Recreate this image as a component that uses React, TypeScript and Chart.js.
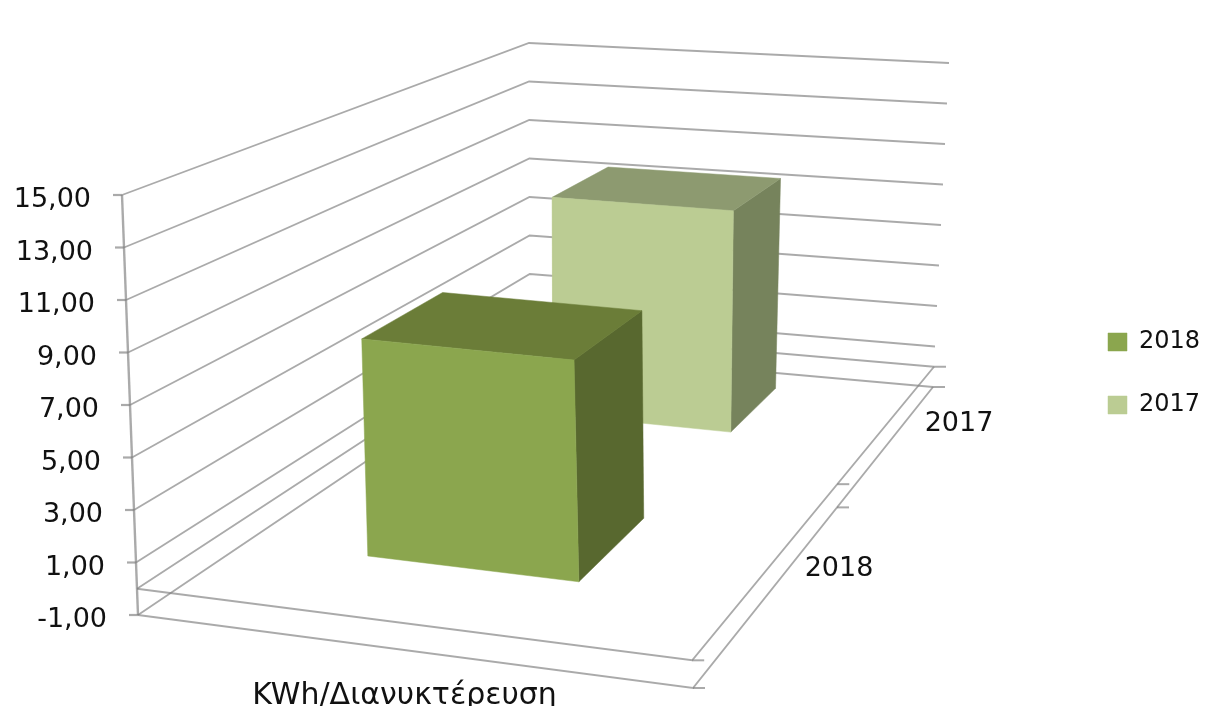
import React, { useEffect, useRef } from "react";
import { Chart, registerables } from "chart.js";

Chart.register(...registerables);

const seriesNames = ["2018", "2017"];
const seriesValues = [8.6, 10.1];
const categoryLabel = "KWh/Διανυκτέρευση";
const tickValues = [-1, 1, 3, 5, 7, 9, 11, 13, 15];
const floorValue = 0;
const frontColors = ["#8BA64E", "#BBCC93"];
const topColors = ["#6B7D38", "#8D9A70"];
const sideColors = ["#58682F", "#76835C"];

const W = 1232, H = 706;
const PX_PER_UNIT = 26.25;
const Y_AT_MIN = 615;
const FONT = "DejaVu Sans";
const GRID = "rgba(130,130,130,0.68)";
const TEXT = "#111111";

const LOW: Record<string, number[]> = { "00": [138, 615], "10": [693, 688], "01": [530, 351], "11": [933, 387] };
const HIGH: Record<string, number[]> = { "00": [122, 195], "10": [680, 245], "01": [529, 43], "11": [949, 63] };
const bil = (c: Record<string, number[]>, u: number, w: number, i: number) =>
  c["00"][i] * (1 - u) * (1 - w) + c["10"][i] * u * (1 - w) + c["01"][i] * (1 - u) * w + c["11"][i] * u * w;

const project = (u: number, v: number, w: number) => {
  const t = (v + 1) / 16;
  const px = bil(LOW, u, w, 0) * (1 - t) + bil(HIGH, u, w, 0) * t;
  const py = bil(LOW, u, w, 1) * (1 - t) + bil(HIGH, u, w, 1) * t;
  return { x: px, y: -1 + (Y_AT_MIN - py) / PX_PER_UNIT };
};

const barSpans = [
  { u0: 0.29, u1: 0.692, w0: 0.2, w1: 0.425 },
  { u0: 0.29, u1: 0.69, w0: 0.73, w1: 0.885 },
];

const line = (pts: { x: number; y: number }[], width = 1.8, color = GRID) => ({
  label: "",
  data: pts,
  showLine: true,
  fill: false,
  tension: 0,
  borderColor: color,
  borderWidth: width,
  pointRadius: 0,
  clip: false,
});

const face = (label: string, pts: { x: number; y: number }[], color: string) => ({
  label,
  data: [...pts, pts[0]],
  showLine: true,
  fill: "shape",
  tension: 0,
  backgroundColor: color,
  borderColor: color,
  borderWidth: 0.5,
  pointRadius: 0,
  clip: false,
});

const buildDatasets = () => {
  const sets: any[] = [];
  seriesNames.forEach((name, i) => {
    const { u0, u1, w0, w1 } = barSpans[i];
    const v = seriesValues[i];
    sets.push(face(name, [project(u0, floorValue, w0), project(u1, floorValue, w0), project(u1, v, w0), project(u0, v, w0)], frontColors[i]));
    sets.push(face("", [project(u0, v, w0), project(u1, v, w0), project(u1, v, w1), project(u0, v, w1)], topColors[i]));
    sets.push(face("", [project(u1, floorValue, w0), project(u1, floorValue, w1), project(u1, v, w1), project(u1, v, w0)], sideColors[i]));
  });
  const levels = [...tickValues, floorValue];
  levels.forEach((v) => {
    sets.push(line([project(0, v, 0), project(0, v, 1), project(1, v, 1)]));
  });
  sets.push(line([project(0, tickValues[0], 0), project(0, tickValues[tickValues.length - 1], 0)], 2.4));
  tickValues.forEach((v) => {
    const p = project(0, v, 0);
    sets.push(line([{ x: p.x - 9, y: p.y }, p], 2.2));
  });
  [tickValues[0], floorValue].forEach((v) => {
    sets.push(line([project(0, v, 0), project(1, v, 0), project(1, v, 1)], 1.9));
    [0, 0.6, 1].forEach((w) => {
      const p = project(1, v, w);
      sets.push(line([p, { x: p.x + 12, y: p.y }], 2));
    });
  });
  return sets;
};

const textPlugin = {
  id: "axisText",
  afterLayout(chart: any) {
    const l = chart.legend;
    const pad = l.options.labels.padding;
    l.left = 1108 - pad;
    l.right = W;
    l.width = W - l.left;
    l.top = 330 - pad;
    l.height = 400;
    l.bottom = l.top + 400;
  },
  afterDraw(chart: any) {
    const { ctx, scales } = chart;
    ctx.save();
    ctx.fillStyle = TEXT;
    ctx.textBaseline = "middle";
    ctx.font = `27px "${FONT}"`;
    ctx.textAlign = "right";
    scales.y.ticks.forEach((t: any) => {
      const p = project(0, t.value, 0);
      ctx.fillText(t.value.toFixed(2).replace(".", ","), p.x - 31, scales.y.getPixelForValue(p.y) + 5);
    });
    ctx.textAlign = "center";
    ctx.font = `30px "${FONT}"`;
    const low = tickValues[0];
    const c = project(0.5, low, 0);
    ctx.fillText(categoryLabel, c.x - 11, scales.y.getPixelForValue(c.y) + 45);
    ctx.font = `27px "${FONT}"`;
    seriesNames.forEach((name, i) => {
      const p = project(1, low, i === 0 ? 0.25 : 0.75);
      ctx.fillText(name, p.x + 86, scales.y.getPixelForValue(p.y) - (i === 0 ? 44 : 38));
    });
    ctx.restore();
  },
};

export default function App() {
  const ref = useRef<HTMLCanvasElement>(null);
  useEffect(() => {
    document.body.style.margin = "0";
    const chart = new Chart(ref.current!, {
      type: "scatter",
      data: { datasets: buildDatasets() },
      plugins: [textPlugin],
      options: {
        animation: false,
        responsive: false,
        layout: { padding: 0 },
        scales: {
          x: { type: "linear", display: false, min: 0, max: W },
          y: {
            type: "linear",
            min: -1 - (H - Y_AT_MIN) / PX_PER_UNIT,
            max: -1 + Y_AT_MIN / PX_PER_UNIT,
            grid: { display: false, drawTicks: false },
            border: { display: false },
            ticks: { display: false },
            afterBuildTicks: (s: any) => {
              s.ticks = tickValues.map((value) => ({ value }));
            },
          },
        },
        plugins: {
          tooltip: { enabled: false },
          legend: {
            position: "chartArea",
            align: "start",
            labels: {
              boxWidth: 19,
              boxHeight: 18,
              padding: 39,
              color: TEXT,
              font: { family: FONT, size: 24 },
              filter: (item: any) => seriesNames.includes(item.text),
            },
          },
        },
      } as any,
    } as any);
    return () => chart.destroy();
  }, []);
  return <canvas ref={ref} width={W} height={H} style={{ display: "block", width: W, height: H }} />;
}
